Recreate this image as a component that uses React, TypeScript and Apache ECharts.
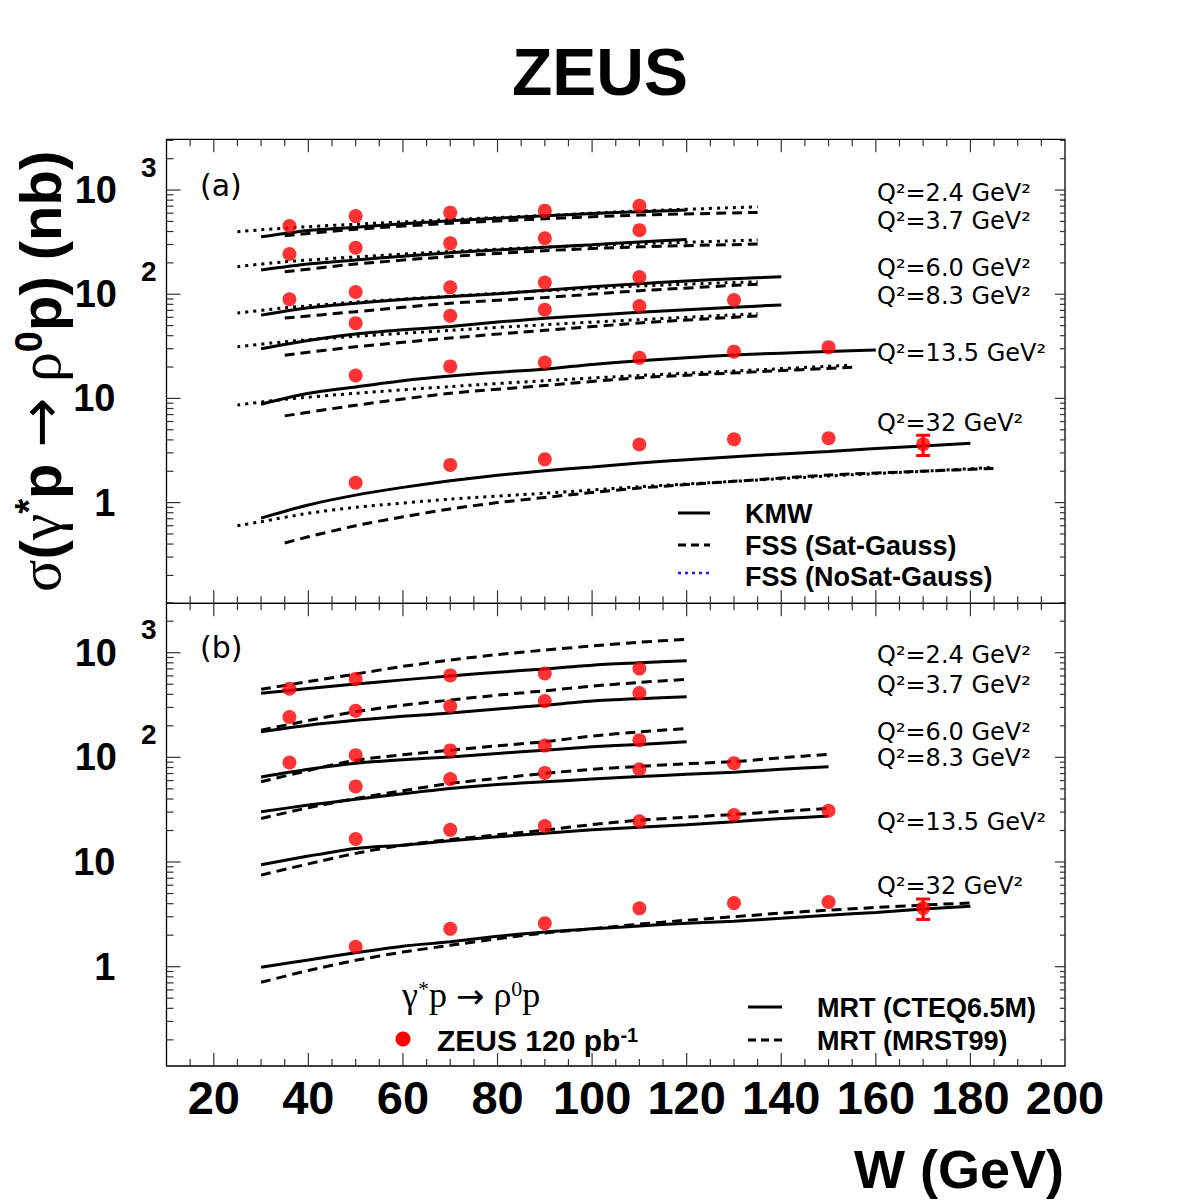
import React, { useEffect, useRef } from "react";
import * as echarts from "echarts";

// ---------- axis ranges ----------
const W_MIN = 10;
const W_MAX = 200;
const SIG_A = [0.108, 3070];
const SIG_B = [0.1125, 2965];

// ---------- ticks ----------
const X_MAJOR_TICKS = [20, 40, 60, 80, 100, 120, 140, 160, 180];
const X_MINOR_TICKS = [15, 25, 30, 35, 45, 50, 55, 65, 70, 75, 85, 90, 95, 105, 110, 115, 125, 130, 135, 145, 150, 155, 165, 170, 175, 185, 190, 195];
const Y_MAJOR_TICKS = [1, 10, 100, 1000];
const Y_MINOR_TICKS = [0.2, 0.3, 0.4, 0.5, 0.6, 0.7, 0.8, 0.9, 2, 3, 4, 5, 6, 7, 8, 9, 20, 30, 40, 50, 60, 70, 80, 90, 200, 300, 400, 500, 600, 700, 800, 900, 2000, 3000];

// ---------- labels ----------
const Q2_LABELS = ["Q²=2.4 GeV²", "Q²=3.7 GeV²", "Q²=6.0 GeV²", "Q²=8.3 GeV²", "Q²=13.5 GeV²", "Q²=32 GeV²"];

// ---------- ZEUS data points ----------
const W_PTS_LOW = [36, 50, 70, 90, 110];
const W_PTS_83 = [50, 70, 90, 110, 130];
const W_PTS_135 = [50, 70, 90, 110, 130, 150];
const W_PTS_32 = [50, 70, 90, 110, 130, 150, 170];
const ZEUS_24 = [452, 562, 607, 634, 705];
const ZEUS_37 = [243, 279, 308, 345, 412];
const ZEUS_60 = [89.4, 105, 116.5, 129.5, 146];
const ZEUS_83 = [52.8, 62, 71, 77, 88];
const ZEUS_135 = [16.6, 20.3, 22.1, 24.5, 28.1, 30.9];
const ZEUS_32 = [1.55, 2.3, 2.6, 3.61, 4.05, 4.15, 3.63];
const ZEUS_32_ERR = [0, 0, 0, 0, 0, 0, 0.8];

// ---------- panel (a): KMW (solid) ----------
const W_KMW_LOW = [30, 40, 50, 60, 70, 80, 90, 100, 110, 120];
const W_KMW_MID = [30, 40, 50, 60, 70, 80, 90, 100, 110, 120, 130, 140];
const W_KMW_135 = [30, 40, 50, 60, 70, 80, 90, 100, 110, 120, 130, 140, 150, 160];
const W_KMW_32 = [30, 40, 50, 60, 70, 80, 90, 100, 110, 120, 130, 140, 150, 160, 170, 180];
const KMW_24 = [356, 410, 440, 475, 507, 537, 566, 595, 620, 643];
const KMW_37 = [171, 195, 213, 232, 250, 266, 282, 298, 318, 336];
const KMW_60 = [63, 74, 82, 89, 95, 101, 109, 118, 126, 134, 141, 147];
const KMW_83 = [30, 36, 41.5, 45.5, 49, 54, 58.7, 63, 67, 71, 75, 79];
const KMW_135 = [8.8, 11.2, 12.9, 14.8, 16.4, 17.8, 19.1, 21.2, 23, 24.6, 26.1, 27.2, 28.2, 29.1];
const KMW_32 = [0.71, 0.95, 1.18, 1.4, 1.62, 1.83, 2.02, 2.2, 2.4, 2.58, 2.76, 2.93, 3.1, 3.3, 3.49, 3.71];

// ---------- panel (a): FSS Sat-Gauss (dashed) ----------
const W_SAT_LOW = [35, 50, 70, 90, 110, 135];
const W_SAT_135 = [35, 50, 70, 90, 110, 135, 155];
const W_SAT_32 = [35, 40, 50, 60, 70, 80, 90, 100, 110, 130, 150, 170, 185];
const SAT_24 = [365, 420, 480, 530, 575, 610];
const SAT_37 = [164, 195, 230, 262, 285, 303];
const SAT_60 = [59, 68, 82, 93, 108, 125];
const SAT_83 = [26, 31.3, 38, 45, 53, 62];
const SAT_135 = [6.8, 8.6, 11.2, 13.3, 15.8, 18, 19.9];
const SAT_32 = [0.41, 0.47, 0.6, 0.73, 0.87, 1.0, 1.12, 1.25, 1.38, 1.6, 1.84, 2.0, 2.13];

// ---------- panel (a): FSS NoSat-Gauss (dotted) ----------
const W_NOSAT_24 = [25, 30, 40, 50, 70, 90, 110, 135];
const W_NOSAT_LOW = [25, 35, 50, 70, 90, 110, 135];
const W_NOSAT_135 = [25, 35, 50, 70, 90, 110, 135, 155];
const W_NOSAT_32 = [25, 30, 40, 50, 70, 90, 110, 130, 150, 170, 185];
const NOSAT_24 = [398, 415, 445, 470, 520, 570, 630, 690];
const NOSAT_37 = [184, 205, 228, 257, 283, 305, 331];
const NOSAT_60 = [66, 74, 84, 96, 108, 120, 132];
const NOSAT_83 = [31.3, 35, 39.5, 45, 51, 57, 65];
const NOSAT_135 = [8.65, 9.8, 11.2, 13, 14.8, 16.6, 18.8, 20.9];
const NOSAT_32 = [0.6, 0.656, 0.79, 0.9, 1.08, 1.23, 1.42, 1.6, 1.8, 2.0, 2.18];

// ---------- panel (b): MRT (CTEQ6.5M) solid, MRT (MRST99) dashed ----------
const W_MRT_LOW = [30, 40, 50, 60, 70, 80, 90, 100, 110, 120];
const W_MRT_MID = [30, 40, 50, 60, 70, 80, 90, 100, 110, 120, 130, 140, 150];
const W_MRT_32 = [30, 40, 50, 60, 70, 80, 90, 100, 110, 120, 130, 140, 150, 160, 170, 180];
const CTEQ_24 = [409, 455, 502, 550, 600, 650, 700, 760, 800, 839];
const CTEQ_37 = [176, 203, 226, 247, 265, 290, 315, 345, 364, 380];
const CTEQ_60 = [65, 77, 88, 95, 101, 109, 117, 126, 133, 141];
const CTEQ_83 = [30.2, 35, 39.7, 45, 50.5, 55, 58.5, 62, 65.5, 69, 72, 77, 81.3];
const CTEQ_135 = [9.4, 11.4, 13.5, 14.5, 16, 17.4, 18.8, 20.3, 21.5, 22.7, 24.3, 26, 27.5];
const CTEQ_32 = [0.99, 1.16, 1.36, 1.57, 1.73, 1.95, 2.15, 2.3, 2.45, 2.6, 2.72, 2.9, 3.1, 3.3, 3.55, 3.78];
const MRST_24 = [447, 530, 626, 740, 851, 960, 1060, 1160, 1260, 1343];
const MRST_37 = [182, 225, 273, 315, 353, 393, 433, 480, 520, 557];
const MRST_60 = [58.5, 75, 94, 106, 117, 129, 141, 160, 175, 189];
const MRST_83 = [26.1, 33, 40.5, 48, 56.4, 63, 70.3, 77, 82, 87, 91, 99, 107];
const MRST_135 = [7.5, 9.6, 12.1, 14.5, 16.4, 18.2, 20.2, 22.8, 25.1, 26.8, 28.5, 30.5, 32.5];
const MRST_32 = [0.71, 0.92, 1.15, 1.38, 1.6, 1.85, 2.1, 2.3, 2.55, 2.78, 3.0, 3.25, 3.47, 3.68, 3.88, 4.07];

// ---------- styling ----------
const FONT = "'Liberation Sans', Arial, Helvetica, sans-serif";
const QFONT = "'DejaVu Sans', sans-serif";
const SERIF = "'Liberation Serif', 'DejaVu Serif', serif";
const DASH = [10, 6];
const DOT = [3, 5];

const GRID_A = { left: 166.5, top: 139.3, width: 898.5, height: 464 };
const GRID_B = { left: 166.5, top: 603.3, width: 898.5, height: 462.7 };

function zip(ws: number[], vs: number[]) {
  return ws.map((w, i) => [w, vs[i]]);
}

function lineSeries(gi: number, ws: number[], vs: number[], type: any) {
  return {
    type: "line",
    xAxisIndex: gi,
    yAxisIndex: gi,
    data: zip(ws, vs),
    symbol: "none",
    smooth: 0.25,
    silent: true,
    z: 3,
    lineStyle: { color: "#000", width: 3, type },
  };
}

function pointSeries(gi: number, ws: number[], vs: number[]) {
  return {
    type: "scatter",
    xAxisIndex: gi,
    yAxisIndex: gi,
    data: zip(ws, vs),
    symbol: "circle",
    symbolSize: 14,
    silent: true,
    z: 10,
    itemStyle: { color: "#ff0000" },
  };
}

const TICK_ITEMS: number[][] = [
  ...X_MAJOR_TICKS.map((x) => [x, 1, 0]),
  ...X_MINOR_TICKS.map((x) => [x, 1, 1]),
  ...Y_MAJOR_TICKS.map((y) => [100, y, 2]),
  ...Y_MINOR_TICKS.map((y) => [100, y, 3]),
];

function tickSeries(gi: number, yr: number[]) {
  return {
    type: "custom",
    xAxisIndex: gi,
    yAxisIndex: gi,
    silent: true,
    z: 6,
    data: TICK_ITEMS,
    renderItem: (_p: any, api: any) => {
      const kind = api.value(2);
      const st = { stroke: "#333", lineWidth: 1.2 };
      if (kind < 2) {
        const x = api.value(0);
        const b = api.coord([x, yr[0]]);
        const t = api.coord([x, yr[1]]);
        const len = kind === 0 ? 13 : 7;
        return {
          type: "group",
          children: [
            { type: "line", shape: { x1: b[0], y1: b[1], x2: b[0], y2: b[1] - len }, style: st },
            { type: "line", shape: { x1: t[0], y1: t[1], x2: t[0], y2: t[1] + len }, style: st },
          ],
        };
      }
      const y = api.value(1);
      const l = api.coord([W_MIN, y]);
      const r = api.coord([W_MAX, y]);
      const ll = kind === 2 ? 14 : 7;
      const rl = kind === 2 ? 10 : 5;
      return {
        type: "group",
        children: [
          { type: "line", shape: { x1: l[0], y1: l[1], x2: l[0] + ll, y2: l[1] }, style: st },
          { type: "line", shape: { x1: r[0], y1: r[1], x2: r[0] - rl, y2: r[1] }, style: st },
        ],
      };
    },
  };
}

function errSeries(gi: number) {
  return {
    type: "custom",
    xAxisIndex: gi,
    yAxisIndex: gi,
    silent: true,
    z: 9,
    data: W_PTS_32.map((w, i) => [w, ZEUS_32[i], ZEUS_32_ERR[i]]),
    renderItem: (_p: any, api: any) => {
      const x = api.value(0);
      const y = api.value(1);
      const e = api.value(2);
      if (!e) return null;
      const hi = api.coord([x, y + e]);
      const lo = api.coord([x, y - e]);
      const st = { stroke: "#ff0000", lineWidth: 3 };
      return {
        type: "group",
        children: [
          { type: "line", shape: { x1: hi[0], y1: hi[1], x2: lo[0], y2: lo[1] }, style: st },
          { type: "line", shape: { x1: hi[0] - 7, y1: hi[1], x2: hi[0] + 7, y2: hi[1] }, style: st },
          { type: "line", shape: { x1: lo[0] - 7, y1: lo[1], x2: lo[0] + 7, y2: lo[1] }, style: st },
        ],
      };
    },
  };
}

function yLabel(v: number) {
  const lg = Math.log10(v);
  const e = Math.round(lg);
  if (Math.abs(lg - e) > 1e-6) return "";
  if (e === 0) return "{b|1}{gap| }";
  if (e === 1) return "{b|10}{gap| }";
  return "{b|10}{sp| }{s|" + e + "}";
}

const Y_LABEL_RICH = {
  b: { fontSize: 38, fontWeight: "bold", fontFamily: FONT, color: "#000", padding: [18, 0, 18, 0], verticalAlign: "bottom" },
  gap: { width: 41, fontSize: 10 },
  sp: { width: 24, fontSize: 10 },
  s: { fontSize: 28, fontWeight: "bold", fontFamily: FONT, color: "#000", verticalAlign: "top", padding: [0, 0, 0, 0] },
};

function yAxis(gi: number, yr: number[], withName: boolean) {
  const ax: any = {
    type: "log",
    logBase: 10,
    gridIndex: gi,
    min: yr[0],
    max: yr[1],
    axisLine: { show: false },
    axisTick: { show: false },
    splitLine: { show: false },
    minorTick: { show: false },
    axisLabel: { formatter: yLabel, rich: Y_LABEL_RICH, margin: 10, align: "right" },
  };
  if (withName) {
    ax.name = "{g|σ}{b|(}{g|γ}{u|*}{b|p }{a|→}{g| ρ}{u|0}{b|p) (nb)}";
    ax.nameLocation = "middle";
    ax.nameGap = 97;
    ax.nameMoveOverlap = false;
    ax.nameTextStyle = {
      rich: {
        g: { fontFamily: SERIF, fontSize: 60, color: "#000", verticalAlign: "bottom" },
        a: { fontFamily: QFONT, fontSize: 60, color: "#000", verticalAlign: "bottom" },
        b: { fontFamily: FONT, fontWeight: "bold", fontSize: 58, color: "#000", verticalAlign: "bottom" },
        u: { fontFamily: FONT, fontWeight: "bold", fontSize: 38, color: "#000", verticalAlign: "top" },
      },
    };
  }
  return ax;
}

function text(x: number, y: number, t: string, size: number, family: string, weight = "normal", align = "left", extra: any = {}) {
  return {
    type: "text",
    x,
    y,
    silent: true,
    style: {
      text: t,
      fill: "#000",
      fontSize: size,
      fontFamily: family,
      fontWeight: weight,
      align,
      verticalAlign: "middle",
      textAlign: align,
      textVerticalAlign: "middle",
      ...extra,
    },
  };
}

function seg(x1: number, x2: number, y: number, dash: any, color = "#000", w = 3) {
  return {
    type: "line",
    silent: true,
    shape: { x1, y1: y, x2, y2: y },
    style: { stroke: color, lineWidth: w, lineDash: dash },
  };
}

const Q2_Y_A = [192.5, 221, 267.5, 296, 353, 422.5];
const Q2_Y_B = [655, 685, 732, 758, 822, 886];

export default function App() {
  const ref = useRef<HTMLDivElement>(null);
  useEffect(() => {
    if (!ref.current) return;
    const chart = echarts.init(ref.current, undefined, { renderer: "svg" });

    const graphic: any[] = [];
    graphic.push(text(200, 185, "(a)", 30, QFONT));
    graphic.push(text(200, 647, "(b)", 30, QFONT));
    Q2_LABELS.forEach((l, i) => {
      graphic.push(text(877, Q2_Y_A[i], l, 24, QFONT));
      graphic.push(text(877, Q2_Y_B[i], l, 24, QFONT));
    });
    // legend panel (a)
    graphic.push(seg(678, 710, 513, null));
    graphic.push(seg(678, 710, 545, [8, 5]));
    graphic.push(seg(678, 710, 573, [3, 4], "#1a1aff", 2.5));
    graphic.push(text(745, 514, "KMW", 27, FONT, "bold"));
    graphic.push(text(745, 546, "FSS (Sat-Gauss)", 27, FONT, "bold"));
    graphic.push(text(745, 577, "FSS (NoSat-Gauss)", 27, FONT, "bold"));
    // legend panel (b)
    graphic.push(seg(748, 782, 1007, null));
    graphic.push(seg(748, 782, 1040, [8, 5]));
    graphic.push(text(817, 1008, "MRT (CTEQ6.5M)", 27, FONT, "bold"));
    graphic.push(text(817, 1041, "MRT (MRST99)", 27, FONT, "bold"));
    graphic.push({
      type: "text",
      x: 402,
      y: 995,
      silent: true,
      style: {
        text: "{g|γ}{u|*}{g|p }{a|→}{g| ρ}{u|0}{g|p}",
        align: "left",
        verticalAlign: "middle",
        textAlign: "left",
        textVerticalAlign: "middle",
        rich: {
          g: { fontFamily: SERIF, fontSize: 36, fill: "#000", color: "#000", verticalAlign: "bottom" },
          a: { fontFamily: QFONT, fontSize: 34, fill: "#000", color: "#000", verticalAlign: "bottom" },
          u: { fontFamily: SERIF, fontSize: 22, fill: "#000", color: "#000", verticalAlign: "top" },
        },
      },
    });
    graphic.push({ type: "circle", silent: true, shape: { cx: 403, cy: 1039, r: 7.5 }, style: { fill: "#ff0000" } });
    graphic.push({
      type: "text",
      x: 437,
      y: 1040,
      silent: true,
      style: {
        text: "{b|ZEUS 120 pb}{u|-1}",
        align: "left",
        verticalAlign: "middle",
        textAlign: "left",
        textVerticalAlign: "middle",
        rich: {
          b: { fontFamily: FONT, fontWeight: "bold", fontSize: 30, fill: "#000", color: "#000", verticalAlign: "bottom" },
          u: { fontFamily: FONT, fontWeight: "bold", fontSize: 20, fill: "#000", color: "#000", verticalAlign: "top" },
        },
      },
    });
    graphic.push(text(1064, 1169, "W (GeV)", 54, FONT, "bold", "right"));

    const series: any[] = [
      tickSeries(0, SIG_A),
      tickSeries(1, SIG_B),
      // panel (a)
      lineSeries(0, W_KMW_LOW, KMW_24, "solid"),
      lineSeries(0, W_KMW_LOW, KMW_37, "solid"),
      lineSeries(0, W_KMW_MID, KMW_60, "solid"),
      lineSeries(0, W_KMW_MID, KMW_83, "solid"),
      lineSeries(0, W_KMW_135, KMW_135, "solid"),
      lineSeries(0, W_KMW_32, KMW_32, "solid"),
      lineSeries(0, W_SAT_LOW, SAT_24, DASH),
      lineSeries(0, W_SAT_LOW, SAT_37, DASH),
      lineSeries(0, W_SAT_LOW, SAT_60, DASH),
      lineSeries(0, W_SAT_LOW, SAT_83, DASH),
      lineSeries(0, W_SAT_135, SAT_135, DASH),
      lineSeries(0, W_SAT_32, SAT_32, DASH),
      lineSeries(0, W_NOSAT_24, NOSAT_24, DOT),
      lineSeries(0, W_NOSAT_LOW, NOSAT_37, DOT),
      lineSeries(0, W_NOSAT_LOW, NOSAT_60, DOT),
      lineSeries(0, W_NOSAT_LOW, NOSAT_83, DOT),
      lineSeries(0, W_NOSAT_135, NOSAT_135, DOT),
      lineSeries(0, W_NOSAT_32, NOSAT_32, DOT),
      // panel (b)
      lineSeries(1, W_MRT_LOW, CTEQ_24, "solid"),
      lineSeries(1, W_MRT_LOW, CTEQ_37, "solid"),
      lineSeries(1, W_MRT_LOW, CTEQ_60, "solid"),
      lineSeries(1, W_MRT_MID, CTEQ_83, "solid"),
      lineSeries(1, W_MRT_MID, CTEQ_135, "solid"),
      lineSeries(1, W_MRT_32, CTEQ_32, "solid"),
      lineSeries(1, W_MRT_LOW, MRST_24, DASH),
      lineSeries(1, W_MRT_LOW, MRST_37, DASH),
      lineSeries(1, W_MRT_LOW, MRST_60, DASH),
      lineSeries(1, W_MRT_MID, MRST_83, DASH),
      lineSeries(1, W_MRT_MID, MRST_135, DASH),
      lineSeries(1, W_MRT_32, MRST_32, DASH),
      errSeries(0),
      errSeries(1),
    ];
    [0, 1].forEach((gi) => {
      series.push(pointSeries(gi, W_PTS_LOW, ZEUS_24));
      series.push(pointSeries(gi, W_PTS_LOW, ZEUS_37));
      series.push(pointSeries(gi, W_PTS_LOW, ZEUS_60));
      series.push(pointSeries(gi, W_PTS_83, ZEUS_83));
      series.push(pointSeries(gi, W_PTS_135, ZEUS_135));
      series.push(pointSeries(gi, W_PTS_32, ZEUS_32));
    });

    const xAxisBase = {
      type: "value",
      min: W_MIN,
      max: W_MAX,
      interval: 10,
      axisLine: { show: false },
      axisTick: { show: false },
      splitLine: { show: false },
    };

    chart.setOption({
      animation: false,
      backgroundColor: "#ffffff",
      title: {
        text: "ZEUS",
        left: "center",
        top: 34,
        textStyle: { fontSize: 66, fontWeight: "bold", fontFamily: FONT, color: "#000" },
      },
      grid: [
        { ...GRID_A, outerBoundsMode: "none", containLabel: false, show: true, borderColor: "#000", borderWidth: 1.3, backgroundColor: "transparent" },
        { ...GRID_B, outerBoundsMode: "none", containLabel: false, show: true, borderColor: "#000", borderWidth: 1.3, backgroundColor: "transparent" },
      ],
      xAxis: [
        { ...xAxisBase, gridIndex: 0, axisLabel: { show: false } },
        {
          ...xAxisBase,
          gridIndex: 1,
          axisLabel: {
            formatter: (v: number) => (v % 20 === 0 ? String(v) : ""),
            fontSize: 47,
            fontWeight: "bold",
            fontFamily: FONT,
            color: "#000",
            margin: 8,
          },
        },
      ],
      yAxis: [yAxis(0, SIG_A, true), yAxis(1, SIG_B, false)],
      series,
      graphic,
    });
    return () => chart.dispose();
  }, []);
  return <div ref={ref} style={{ width: 1200, height: 1200, position: "absolute", left: 0, top: 0 }} />;
}
